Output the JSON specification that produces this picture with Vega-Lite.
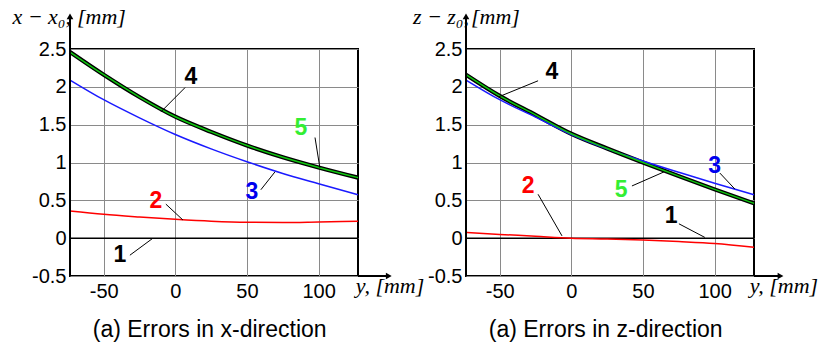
{
  "$schema": "https://vega.github.io/schema/vega-lite/v6.json",
  "autosize": {"type": "pad"},
  "padding": {"left": 11, "top": 5, "right": 2, "bottom": 5},
  "bounds": "flush",
  "spacing": 108,
  "background": "white",
  "config": {
    "view": {"stroke": "black", "strokeWidth": 2},
    "axis": {"domain": false, "ticks": false, "grid": true, "gridColor": "#8a8a8a", "gridWidth": 1, "gridOpacity": 1, "labelFont": "Liberation Sans", "labelFontSize": 20, "labelColor": "black", "labelFlush": false, "tickCount": 12},
    "axisX": {"labelPadding": 5},
    "axisY": {"labelPadding": 4}
  },
  "datasets": {
    "curves": [
      {"panel": "x", "series": "1", "y": -73.5, "v": 0}, {"panel": "x", "series": "1", "y": 127.5, "v": 0},
      {"panel": "x", "series": "2", "y": -73.5, "v": 0.36}, {"panel": "x", "series": "2", "y": -50, "v": 0.315}, {"panel": "x", "series": "2", "y": -25, "v": 0.28}, {"panel": "x", "series": "2", "y": 0, "v": 0.25}, {"panel": "x", "series": "2", "y": 25, "v": 0.225}, {"panel": "x", "series": "2", "y": 50, "v": 0.21}, {"panel": "x", "series": "2", "y": 75, "v": 0.207}, {"panel": "x", "series": "2", "y": 100, "v": 0.215}, {"panel": "x", "series": "2", "y": 127.5, "v": 0.225},
      {"panel": "x", "series": "3", "y": -73.5, "v": 2.09}, {"panel": "x", "series": "3", "y": -50, "v": 1.83}, {"panel": "x", "series": "3", "y": -25, "v": 1.59}, {"panel": "x", "series": "3", "y": 0, "v": 1.37}, {"panel": "x", "series": "3", "y": 25, "v": 1.18}, {"panel": "x", "series": "3", "y": 50, "v": 1.01}, {"panel": "x", "series": "3", "y": 75, "v": 0.855}, {"panel": "x", "series": "3", "y": 100, "v": 0.72}, {"panel": "x", "series": "3", "y": 127.5, "v": 0.575},
      {"panel": "x", "series": "4", "y": -73.5, "v": 2.46}, {"panel": "x", "series": "4", "y": -50, "v": 2.16}, {"panel": "x", "series": "4", "y": -25, "v": 1.865}, {"panel": "x", "series": "4", "y": 0, "v": 1.605}, {"panel": "x", "series": "4", "y": 25, "v": 1.405}, {"panel": "x", "series": "4", "y": 50, "v": 1.225}, {"panel": "x", "series": "4", "y": 75, "v": 1.07}, {"panel": "x", "series": "4", "y": 100, "v": 0.935}, {"panel": "x", "series": "4", "y": 127.5, "v": 0.8},
      {"panel": "x", "series": "5", "y": -73.5, "v": 2.46}, {"panel": "x", "series": "5", "y": -50, "v": 2.16}, {"panel": "x", "series": "5", "y": -25, "v": 1.865}, {"panel": "x", "series": "5", "y": 0, "v": 1.605}, {"panel": "x", "series": "5", "y": 25, "v": 1.405}, {"panel": "x", "series": "5", "y": 50, "v": 1.225}, {"panel": "x", "series": "5", "y": 75, "v": 1.07}, {"panel": "x", "series": "5", "y": 100, "v": 0.935}, {"panel": "x", "series": "5", "y": 127.5, "v": 0.8},
      {"panel": "z", "series": "1", "y": -73.5, "v": 0}, {"panel": "z", "series": "1", "y": 127.5, "v": 0},
      {"panel": "z", "series": "2", "y": -73.5, "v": 0.075}, {"panel": "z", "series": "2", "y": -50, "v": 0.05}, {"panel": "z", "series": "2", "y": -25, "v": 0.025}, {"panel": "z", "series": "2", "y": 0, "v": 0.0}, {"panel": "z", "series": "2", "y": 25, "v": -0.01}, {"panel": "z", "series": "2", "y": 50, "v": -0.025}, {"panel": "z", "series": "2", "y": 75, "v": -0.045}, {"panel": "z", "series": "2", "y": 100, "v": -0.07}, {"panel": "z", "series": "2", "y": 127.5, "v": -0.12},
      {"panel": "z", "series": "3", "y": -73.5, "v": 2.09}, {"panel": "z", "series": "3", "y": -50, "v": 1.83}, {"panel": "z", "series": "3", "y": -25, "v": 1.6}, {"panel": "z", "series": "3", "y": 0, "v": 1.37}, {"panel": "z", "series": "3", "y": 25, "v": 1.18}, {"panel": "z", "series": "3", "y": 50, "v": 1.02}, {"panel": "z", "series": "3", "y": 75, "v": 0.87}, {"panel": "z", "series": "3", "y": 100, "v": 0.725}, {"panel": "z", "series": "3", "y": 127.5, "v": 0.575},
      {"panel": "z", "series": "4", "y": -73.5, "v": 2.16}, {"panel": "z", "series": "4", "y": -50, "v": 1.88}, {"panel": "z", "series": "4", "y": -25, "v": 1.63}, {"panel": "z", "series": "4", "y": 0, "v": 1.38}, {"panel": "z", "series": "4", "y": 25, "v": 1.185}, {"panel": "z", "series": "4", "y": 50, "v": 1.0}, {"panel": "z", "series": "4", "y": 75, "v": 0.82}, {"panel": "z", "series": "4", "y": 100, "v": 0.645}, {"panel": "z", "series": "4", "y": 127.5, "v": 0.46},
      {"panel": "z", "series": "5", "y": -73.5, "v": 2.16}, {"panel": "z", "series": "5", "y": -50, "v": 1.88}, {"panel": "z", "series": "5", "y": -25, "v": 1.63}, {"panel": "z", "series": "5", "y": 0, "v": 1.38}, {"panel": "z", "series": "5", "y": 25, "v": 1.185}, {"panel": "z", "series": "5", "y": 50, "v": 1.0}, {"panel": "z", "series": "5", "y": 75, "v": 0.82}, {"panel": "z", "series": "5", "y": 100, "v": 0.645}, {"panel": "z", "series": "5", "y": 127.5, "v": 0.46}
    ],
    "leaders": [
      {"panel": "x", "label": "4", "y1": 6.8, "v1": 1.99, "y2": -10, "v2": 1.67},
      {"panel": "x", "label": "5", "y1": 97.5, "v1": 1.33, "y2": 100.9, "v2": 0.93},
      {"panel": "x", "label": "3", "y1": 59.7, "v1": 0.64, "y2": 69.5, "v2": 0.875},
      {"panel": "x", "label": "2", "y1": -6.6, "v1": 0.45, "y2": 5.3, "v2": 0.24},
      {"panel": "x", "label": "1", "y1": -31.7, "v1": -0.225, "y2": -15.6, "v2": 0},
      {"panel": "z", "label": "4", "y1": -23.2, "v1": 2.08, "y2": -50.4, "v2": 1.87},
      {"panel": "z", "label": "3", "y1": 103.7, "v1": 0.86, "y2": 114.1, "v2": 0.65},
      {"panel": "z", "label": "5", "y1": 42.3, "v1": 0.69, "y2": 64.6, "v2": 0.875},
      {"panel": "z", "label": "2", "y1": -23.2, "v1": 0.58, "y2": -6.5, "v2": 0.03},
      {"panel": "z", "label": "1", "y1": 75.1, "v1": 0.19, "y2": 93.2, "v2": 0.01}
    ],
    "labels": [
      {"panel": "x", "label": "4", "y": 10.9, "v": 2.135},
      {"panel": "x", "label": "5", "y": 87.6, "v": 1.46},
      {"panel": "x", "label": "3", "y": 53.5, "v": 0.61},
      {"panel": "x", "label": "2", "y": -13.5, "v": 0.49},
      {"panel": "x", "label": "1", "y": -38.6, "v": -0.225},
      {"panel": "z", "label": "4", "y": -13.5, "v": 2.2},
      {"panel": "z", "label": "3", "y": 100.1, "v": 0.955},
      {"panel": "z", "label": "5", "y": 34.7, "v": 0.64},
      {"panel": "z", "label": "2", "y": -30.2, "v": 0.69},
      {"panel": "z", "label": "1", "y": 69.6, "v": 0.29}
    ]
  },
  "hconcat": [
    {
      "width": 288, "height": 227,
      "resolve": {"scale": {"color": "independent", "strokeWidth": "independent"}},
      "layer": [
        {
          "data": {"name": "curves"},
          "transform": [{"filter": "datum.panel === 'x' && datum.series === '4'"}],
          "mark": {"type": "line", "color": "black", "strokeWidth": 4.2, "interpolate": "monotone"},
          "encoding": {
            "x": {"field": "y", "type": "quantitative", "scale": {"domain": [-73.5, 127.5], "nice": false, "zero": false}, "axis": {"values": [-50, 0, 50, 100], "tickCount": 12, "title": null, "labelExpr": "datum.value < 0 ? '-' + format(-datum.value, '~g') : format(datum.value, '~g')"}},
            "y": {"field": "v", "type": "quantitative", "scale": {"domain": [-0.5, 2.5], "nice": false, "zero": false}, "axis": {"values": [-0.5, 0, 0.5, 1, 1.5, 2, 2.5], "tickCount": 12, "title": null, "labelExpr": "datum.value < 0 ? '-' + format(-datum.value, '~g') : format(datum.value, '~g')"}}
          }
        },
        {
          "data": {"name": "curves"},
          "transform": [{"filter": "datum.panel === 'x' && datum.series !== '4'"}],
          "mark": {"type": "line", "interpolate": "monotone"},
          "encoding": {
            "x": {"field": "y", "type": "quantitative"},
            "y": {"field": "v", "type": "quantitative"},
            "detail": {"field": "series"},
            "color": {"field": "series", "type": "nominal", "scale": {"domain": ["1", "2", "3", "5"], "range": ["black", "#ff0000", "#1a1aff", "#10c810"]}, "legend": null},
            "strokeWidth": {"field": "series", "type": "nominal", "scale": {"domain": ["1", "2", "3", "5"], "range": [1.5, 1.5, 1.2, 2.2]}, "legend": null}
          }
        },
        {
          "data": {"name": "leaders"},
          "transform": [{"filter": "datum.panel === 'x'"}],
          "mark": {"type": "rule", "color": "black", "strokeWidth": 1},
          "encoding": {
            "x": {"field": "y1", "type": "quantitative"},
            "y": {"field": "v1", "type": "quantitative"},
            "x2": {"field": "y2"},
            "y2": {"field": "v2"}
          }
        },
        {
          "data": {"name": "labels"},
          "transform": [{"filter": "datum.panel === 'x'"}],
          "mark": {"type": "text", "font": "Liberation Sans", "fontSize": 23, "fontWeight": "bold", "align": "center", "baseline": "middle"},
          "encoding": {
            "x": {"field": "y", "type": "quantitative"},
            "y": {"field": "v", "type": "quantitative"},
            "text": {"field": "label"},
            "color": {"field": "label", "type": "nominal", "scale": {"domain": ["1", "2", "3", "4", "5"], "range": ["black", "#ff0000", "#0000ee", "black", "#33ee33"]}, "legend": null}
          }
        },
        {
          "data": {"values": [{}]},
          "mark": {"type": "rule", "color": "black", "strokeWidth": 2},
          "encoding": {"x": {"datum": -73.5}, "y": {"datum": -0.5}, "y2": {"datum": 2.92}}
        },
        {
          "data": {"values": [{}]},
          "mark": {"type": "rule", "color": "black", "strokeWidth": 2},
          "encoding": {"x": {"datum": 127.5}, "x2": {"datum": 148}, "y": {"datum": -0.5}}
        },
        {
          "data": {"values": [{}]},
          "mark": {"type": "point", "shape": "triangle-up", "filled": true, "size": 45, "color": "black", "opacity": 1},
          "encoding": {"x": {"datum": -73.5}, "y": {"datum": 2.93}}
        },
        {
          "data": {"values": [{}]},
          "mark": {"type": "point", "shape": "triangle-right", "filled": true, "size": 45, "color": "black", "opacity": 1},
          "encoding": {"x": {"datum": 149}, "y": {"datum": -0.5}}
        },
        {
          "data": {"values": [{}]},
          "mark": {"type": "text", "font": "Liberation Serif", "fontSize": 22, "fontStyle": "italic", "align": "right", "baseline": "alphabetic", "color": "black"},
          "encoding": {"x": {"datum": -72.8}, "y": {"datum": 2.83}, "text": {"value": "x − x₀,"}}
        },
        {
          "data": {"values": [{}]},
          "mark": {"type": "text", "font": "Liberation Serif", "fontSize": 22, "fontStyle": "italic", "align": "left", "baseline": "alphabetic", "color": "black"},
          "encoding": {"x": {"datum": -68.6}, "y": {"datum": 2.83}, "text": {"value": "[mm]"}}
        },
        {
          "data": {"values": [{}]},
          "mark": {"type": "text", "font": "Liberation Serif", "fontSize": 22, "fontStyle": "italic", "align": "left", "baseline": "alphabetic", "color": "black"},
          "encoding": {"x": {"datum": 126}, "y": {"datum": -0.72}, "text": {"value": "y, [mm]"}}
        },
        {
          "data": {"values": [{}]},
          "mark": {"type": "text", "font": "Liberation Sans", "fontSize": 23, "align": "center", "baseline": "middle", "color": "black"},
          "encoding": {"x": {"datum": 24}, "y": {"datum": -1.213}, "text": {"value": "(a) Errors in x-direction"}}
        }
      ]
    },
    {
      "width": 288, "height": 227,
      "resolve": {"scale": {"color": "independent", "strokeWidth": "independent"}},
      "layer": [
        {
          "data": {"name": "curves"},
          "transform": [{"filter": "datum.panel === 'z' && datum.series === '4'"}],
          "mark": {"type": "line", "color": "black", "strokeWidth": 4.2, "interpolate": "monotone"},
          "encoding": {
            "x": {"field": "y", "type": "quantitative", "scale": {"domain": [-73.5, 127.5], "nice": false, "zero": false}, "axis": {"values": [-50, 0, 50, 100], "tickCount": 12, "title": null, "labelExpr": "datum.value < 0 ? '-' + format(-datum.value, '~g') : format(datum.value, '~g')"}},
            "y": {"field": "v", "type": "quantitative", "scale": {"domain": [-0.5, 2.5], "nice": false, "zero": false}, "axis": {"values": [-0.5, 0, 0.5, 1, 1.5, 2, 2.5], "tickCount": 12, "title": null, "labelExpr": "datum.value < 0 ? '-' + format(-datum.value, '~g') : format(datum.value, '~g')"}}
          }
        },
        {
          "data": {"name": "curves"},
          "transform": [{"filter": "datum.panel === 'z' && datum.series !== '4'"}],
          "mark": {"type": "line", "interpolate": "monotone"},
          "encoding": {
            "x": {"field": "y", "type": "quantitative"},
            "y": {"field": "v", "type": "quantitative"},
            "detail": {"field": "series"},
            "color": {"field": "series", "type": "nominal", "scale": {"domain": ["1", "2", "3", "5"], "range": ["black", "#ff0000", "#1a1aff", "#10c810"]}, "legend": null},
            "strokeWidth": {"field": "series", "type": "nominal", "scale": {"domain": ["1", "2", "3", "5"], "range": [1.5, 1.5, 1.2, 2.2]}, "legend": null}
          }
        },
        {
          "data": {"name": "leaders"},
          "transform": [{"filter": "datum.panel === 'z'"}],
          "mark": {"type": "rule", "color": "black", "strokeWidth": 1},
          "encoding": {
            "x": {"field": "y1", "type": "quantitative"},
            "y": {"field": "v1", "type": "quantitative"},
            "x2": {"field": "y2"},
            "y2": {"field": "v2"}
          }
        },
        {
          "data": {"name": "labels"},
          "transform": [{"filter": "datum.panel === 'z'"}],
          "mark": {"type": "text", "font": "Liberation Sans", "fontSize": 23, "fontWeight": "bold", "align": "center", "baseline": "middle"},
          "encoding": {
            "x": {"field": "y", "type": "quantitative"},
            "y": {"field": "v", "type": "quantitative"},
            "text": {"field": "label"},
            "color": {"field": "label", "type": "nominal", "scale": {"domain": ["1", "2", "3", "4", "5"], "range": ["black", "#ff0000", "#0000ee", "black", "#33ee33"]}, "legend": null}
          }
        },
        {
          "data": {"values": [{}]},
          "mark": {"type": "rule", "color": "black", "strokeWidth": 2},
          "encoding": {"x": {"datum": -73.5}, "y": {"datum": -0.5}, "y2": {"datum": 2.92}}
        },
        {
          "data": {"values": [{}]},
          "mark": {"type": "rule", "color": "black", "strokeWidth": 2},
          "encoding": {"x": {"datum": 127.5}, "x2": {"datum": 145}, "y": {"datum": -0.5}}
        },
        {
          "data": {"values": [{}]},
          "mark": {"type": "point", "shape": "triangle-up", "filled": true, "size": 45, "color": "black", "opacity": 1},
          "encoding": {"x": {"datum": -73.5}, "y": {"datum": 2.93}}
        },
        {
          "data": {"values": [{}]},
          "mark": {"type": "point", "shape": "triangle-right", "filled": true, "size": 45, "color": "black", "opacity": 1},
          "encoding": {"x": {"datum": 146}, "y": {"datum": -0.5}}
        },
        {
          "data": {"values": [{}]},
          "mark": {"type": "text", "font": "Liberation Serif", "fontSize": 22, "fontStyle": "italic", "align": "right", "baseline": "alphabetic", "color": "black"},
          "encoding": {"x": {"datum": -71.4}, "y": {"datum": 2.83}, "text": {"value": "z − z₀,"}}
        },
        {
          "data": {"values": [{}]},
          "mark": {"type": "text", "font": "Liberation Serif", "fontSize": 22, "fontStyle": "italic", "align": "left", "baseline": "alphabetic", "color": "black"},
          "encoding": {"x": {"datum": -70.0}, "y": {"datum": 2.83}, "text": {"value": "[mm]"}}
        },
        {
          "data": {"values": [{}]},
          "mark": {"type": "text", "font": "Liberation Serif", "fontSize": 22, "fontStyle": "italic", "align": "left", "baseline": "alphabetic", "color": "black"},
          "encoding": {"x": {"datum": 124.5}, "y": {"datum": -0.72}, "text": {"value": "y, [mm]"}}
        },
        {
          "data": {"values": [{}]},
          "mark": {"type": "text", "font": "Liberation Sans", "fontSize": 23, "align": "center", "baseline": "middle", "color": "black"},
          "encoding": {"x": {"datum": 24}, "y": {"datum": -1.213}, "text": {"value": "(a) Errors in z-direction"}}
        }
      ]
    }
  ]
}
